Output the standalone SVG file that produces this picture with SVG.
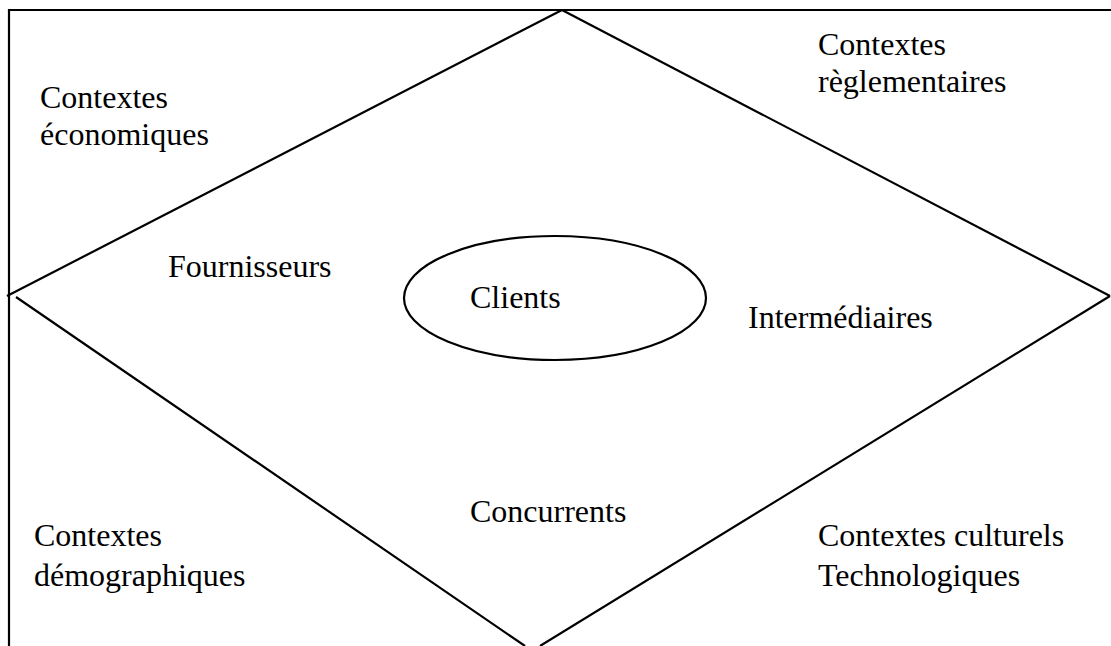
<svg xmlns="http://www.w3.org/2000/svg" width="1111" height="646" viewBox="0 0 1111 646">
<style>
.ln{stroke:#000;stroke-width:2.2;fill:none}
.t{font-family:"Liberation Serif","Times New Roman",serif;font-size:32px;fill:#000}
</style>
<rect x="0" y="0" width="1111" height="646" fill="#fff"/>
<g id="frame">
<path class="ln" d="M9,646 V10 H1111"/>
</g>
<g id="connectors">
<line class="ln" x1="562" y1="10" x2="7" y2="296"/>
<line class="ln" x1="562" y1="10" x2="1110" y2="296"/>
<line class="ln" x1="16" y1="297" x2="525" y2="646"/>
<line class="ln" x1="1110" y1="296" x2="540" y2="646"/>
</g>
<g id="clients">
<ellipse class="ln" cx="555" cy="298" rx="151" ry="62"/>
<text class="t" x="470" y="308">Clients</text>
</g>
<g id="fournisseurs"><text class="t" x="168" y="277">Fournisseurs</text></g>
<g id="intermediaires"><text class="t" x="748" y="328">Intermédiaires</text></g>
<g id="concurrents"><text class="t" x="470" y="522">Concurrents</text></g>
<g id="ctx-eco"><text class="t" x="40" y="108">Contextes</text><text class="t" x="40" y="145">économiques</text></g>
<g id="ctx-regl"><text class="t" x="818" y="55">Contextes</text><text class="t" x="818" y="92">règlementaires</text></g>
<g id="ctx-demo"><text class="t" x="34" y="546">Contextes</text><text class="t" x="34" y="586">démographiques</text></g>
<g id="ctx-cult"><text class="t" x="818" y="546">Contextes culturels</text><text class="t" x="818" y="586">Technologiques</text></g>
</svg>
